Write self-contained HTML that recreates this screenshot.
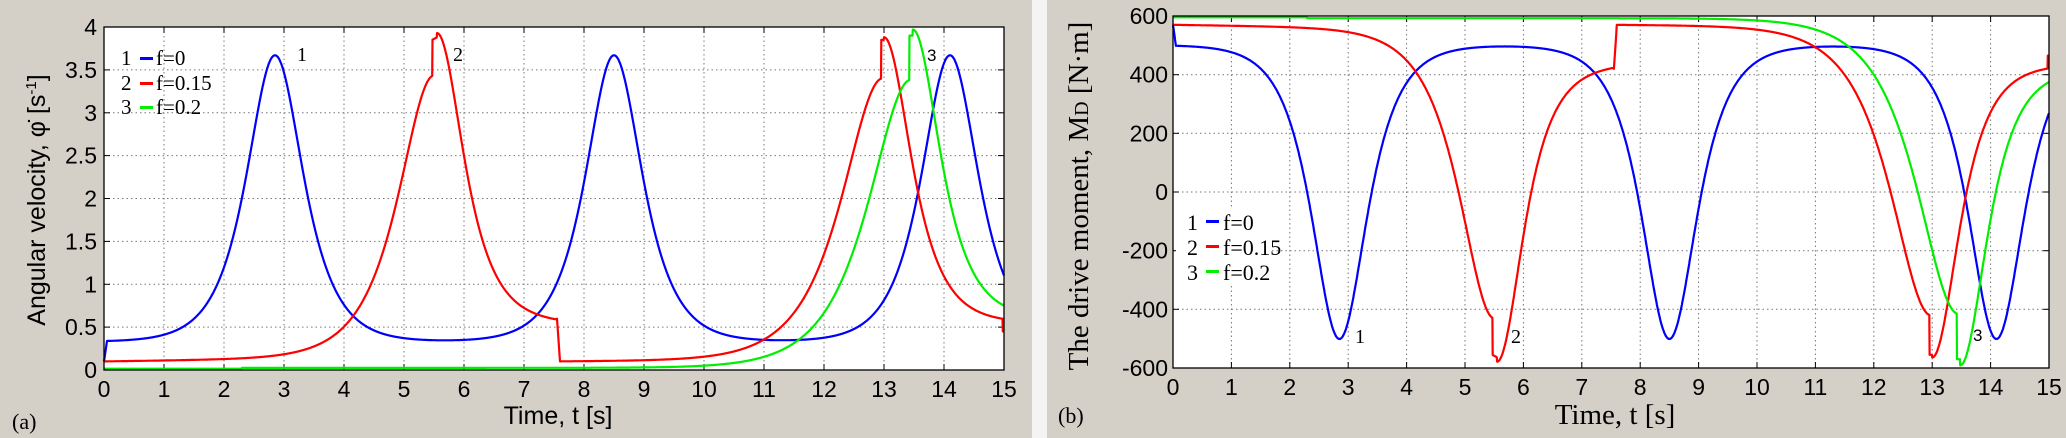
<!DOCTYPE html>
<html><head><meta charset="utf-8"><style>
html,body{margin:0;padding:0;background:#d4d0c8;}
svg{display:block;}
.s{font-family:"Liberation Sans",sans-serif;}
.r{font-family:"Liberation Serif",serif;}
</style></head><body>
<svg id="svg" width="2066" height="438" viewBox="0 0 2066 438" xmlns="http://www.w3.org/2000/svg">
<rect x="0" y="0" width="2066" height="438" fill="#d4d0c8"/>
<rect x="1032" y="0" width="15" height="438" fill="#f4f4f2"/>
<g id="A"></g>
<g id="B"></g>
<!-- Panel a texts -->
<text class="s" x="45" y="200" font-size="25" text-anchor="middle" transform="rotate(-90 45 200)" fill="#000">Angular velocity, φ̇ [s<tspan font-size="15" dy="-9">-1</tspan><tspan dy="9">]</tspan></text>
<text class="s" x="558" y="424" font-size="25" text-anchor="middle">Time, t [s]</text>
<text class="r" x="12" y="429" font-size="22">(a)</text>
<text class="r" x="297" y="61" font-size="20">1</text>
<text class="r" x="453" y="61" font-size="20">2</text>
<text class="s" x="927" y="61" font-size="17">3</text>
<g class="r" font-size="21">
<text x="121" y="65">1</text><rect x="140" y="57" width="13" height="3" fill="#0000ff"/><text x="156" y="65">f=0</text>
<text x="121" y="90">2</text><rect x="140" y="82" width="13" height="3" fill="#ff0000"/><text x="156" y="90">f=0.15</text>
<text x="121" y="114">3</text><rect x="140" y="106" width="13" height="3" fill="#00ee00"/><text x="156" y="114">f=0.2</text>
</g>
<!-- Panel b texts -->
<text class="r" x="1088" y="196" font-size="29" text-anchor="middle" transform="rotate(-90 1088 196)">The drive moment, M<tspan font-size="20">D</tspan> [N·m]</text>
<text class="r" x="1615" y="424" font-size="29" text-anchor="middle">Time, t [s]</text>
<text class="r" x="1058" y="423" font-size="22">(b)</text>
<text class="r" x="1355" y="343" font-size="20">1</text>
<text class="r" x="1511" y="343" font-size="20">2</text>
<text class="s" x="1973" y="341" font-size="17">3</text>
<rect x="1176" y="207" width="96" height="76" fill="#fff"/>
<g class="r" font-size="22">
<text x="1187" y="230">1</text><rect x="1206" y="220" width="13" height="3" fill="#0000ff"/><text x="1223" y="230">f=0</text>
<text x="1187" y="255">2</text><rect x="1206" y="245" width="13" height="3" fill="#ff0000"/><text x="1223" y="255">f=0.15</text>
<text x="1187" y="280">3</text><rect x="1206" y="270" width="13" height="3" fill="#00ee00"/><text x="1223" y="280">f=0.2</text>
</g>
</svg>
<script>
(function(){
var NS="http://www.w3.org/2000/svg";
function sech(x){return 2/(Math.exp(x)+Math.exp(-x));}
function vBlue(t){
  var v=0.33;
  [2.85,8.5,14.1].forEach(function(p){v+=3.34*sech((t-p)/0.42);});
  if(t<0.05) v=0.1+(v-0.1)*(t/0.05);
  return v;
}
function vRed(t){
  var v;
  if(t<=5.47){ v=0.1+0.01*t+3.28*sech((5.5-t)/0.52); }
  else if(t<7.55){ var d=t-5.55; if(d<0) v=3.85+0.03*(t-5.47)/0.08; else v=0.55+3.33*sech(d/0.39)+0.05*Math.max(0,(7.5-t))/2; }
  else if(t<7.6){ v=0.6-(t-7.55)/0.05*0.5; }
  else if(t<=12.95){ v=0.1+0.004*(t-7.6)+3.28*sech((12.98-t)/0.6); }
  else if(t<13.0){ v=3.85; }
  else if(t<14.98){ v=0.55+3.33*sech((t-13.0)/0.4); }
  else { v=0.45; }
  return v;
}
function vGreen(t){
  var v;
  if(t<=13.42){ v=(t<2.3?0.015:0.025)+3.36*sech((13.45-t)/0.62); }
  else if(t<13.48){ v=3.9; }
  else { v=0.6+3.37*sech((t-13.48)/0.4); }
  return v;
}
var fns=[[vBlue,"#0000ff"],[vRed,"#ff0000"],[vGreen,"#00ee00"]];
function panel(g,x0,x1,y0,y1,ymin,ymax,ystep,ylabels,tf,labX){
  var h="";
  var px=function(t){return x0+(x1-x0)*t/15;};
  var py=function(v){return y1-(y1-y0)*(v-ymin)/(ymax-ymin);};
  h+='<rect x="'+x0+'" y="'+y0+'" width="'+(x1-x0)+'" height="'+(y1-y0)+'" fill="#fff"/>';
  for(var i=1;i<15;i++){var X=px(i).toFixed(1);h+='<line x1="'+X+'" y1="'+y0+'" x2="'+X+'" y2="'+y1+'" stroke="#777" stroke-width="1" stroke-dasharray="1.5,3"/>';}
  var n=Math.round((ymax-ymin)/ystep);
  for(var j=1;j<n;j++){var Y=py(ymin+j*ystep).toFixed(1);h+='<line x1="'+x0+'" y1="'+Y+'" x2="'+x1+'" y2="'+Y+'" stroke="#777" stroke-width="1" stroke-dasharray="1.5,3"/>';}
  for(var i=0;i<=15;i++){var X=px(i).toFixed(1);
    h+='<line x1="'+X+'" y1="'+y1+'" x2="'+X+'" y2="'+(y1-6)+'" stroke="#000"/><line x1="'+X+'" y1="'+y0+'" x2="'+X+'" y2="'+(y0+6)+'" stroke="#000"/>';
    h+='<text class="s" x="'+X+'" y="'+(y1+27)+'" font-size="23" text-anchor="middle">'+i+'</text>';}
  for(var j=0;j<=n;j++){var Y=py(ymin+j*ystep);
    h+='<line x1="'+x0+'" y1="'+Y.toFixed(1)+'" x2="'+(x0+6)+'" y2="'+Y.toFixed(1)+'" stroke="#000"/><line x1="'+x1+'" y1="'+Y.toFixed(1)+'" x2="'+(x1-6)+'" y2="'+Y.toFixed(1)+'" stroke="#000"/>';
    h+='<text class="s" x="'+labX+'" y="'+(Y+8).toFixed(1)+'" font-size="23" text-anchor="end">'+ylabels[j]+'</text>';}
  fns.forEach(function(f){
    var pts=[];
    for(var k=0;k<=3000;k++){var t=k*15/3000;var v=tf(f[0](t));pts.push(px(t).toFixed(1)+","+Math.max(y0-1,Math.min(y1+1,py(v))).toFixed(1));}
    h+='<polyline points="'+pts.join(" ")+'" fill="none" stroke="'+f[1]+'" stroke-width="2.2" stroke-linejoin="round"/>';
  });
  h+='<rect x="'+x0+'" y="'+y0+'" width="'+(x1-x0)+'" height="'+(y1-y0)+'" fill="none" stroke="#000" stroke-width="1.3"/>';
  g.innerHTML=h;
}
panel(document.getElementById("A"),104,1004,27,370,0,4,0.5,["0","0.5","1","1.5","2","2.5","3","3.5","4"],function(v){return v;},97);
panel(document.getElementById("B"),1173,2049,16,368,-600,600,200,["-600","-400","-200","0","200","400","600"],function(v){return 600-300*v;},1168);
})();
</script>
</body></html>
